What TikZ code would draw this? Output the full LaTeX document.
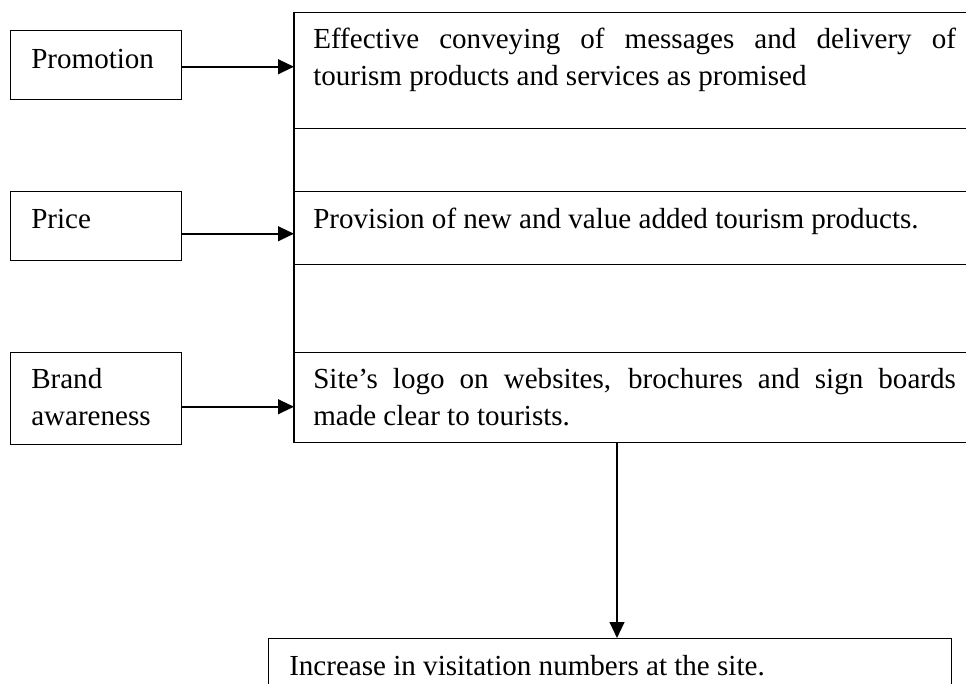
\documentclass[tikz,border=0pt]{standalone}
\usepackage{fontspec}
\setmainfont{Liberation Serif}
\usetikzlibrary{arrows.meta,calc}
\hyphenpenalty=10000
\exhyphenpenalty=10000
\begin{document}
\begin{tikzpicture}[x=0.75pt,y=-0.75pt,
  box/.style={draw, line width=1.1pt, inner sep=0pt, anchor=north west},
  txt/.style={inner sep=0pt, font=\fontsize{21.8}{27.75}\selectfont},
  arr/.style={line width=1.6pt, -{Triangle[length=12pt,width=11pt]}}]
\useasboundingbox (0,0) rectangle (966,683);
\fill[white] (0,0) rectangle (966,683);
\clip (0,0) rectangle (966,683);
% left boxes
\node[box, minimum width=128.25pt, minimum height=51.75pt] (p1) at (10,30) {};
\node[box, minimum width=128.25pt, minimum height=51.75pt] (p2) at (10,191) {};
\node[box, minimum width=128.25pt, minimum height=69pt] (p3) at (10,352) {};
% right column boxes
\node[box, minimum width=529.5pt, minimum height=87pt] (b1) at (294,12) {};
\node[box, minimum width=529.5pt, minimum height=54.75pt] (b2) at (294,191) {};
\node[box, minimum width=529.5pt, minimum height=67.5pt] (b3) at (294,352) {};
\draw[line width=1.1pt] (b1.north west) -- (b3.south west);
% bottom box
\node[box, minimum width=512.25pt, minimum height=61.5pt] (bot) at (268,638) {};
% texts
\node[txt, anchor=base west] (tp1) at (31,68) {Promotion};
\node[txt, anchor=base west] (tp2) at (31,228) {Price};
\node[txt, anchor=north west, align=left] (tp3) at (31,362.1) {\strut Brand\\awareness};
\node[txt, anchor=north west, text width=482pt, align=justify] (t1) at (313,22.1)
  {\strut Effective conveying of messages and delivery of\linebreak tourism products and services as promised};
\node[txt, anchor=base west] (t2) at (313,228) {Provision of new and value added tourism products.};
\node[txt, anchor=north west, text width=482pt, align=justify] (t3) at (313,362.1)
  {\strut Site’s logo on websites, brochures and sign boards\linebreak made clear to tourists.};
\node[txt, anchor=base west] (t4) at (289,675) {Increase in visitation numbers at the site.};
% arrow start points
\coordinate (a1) at ($(p1.east)+(0,1.5)$);
\coordinate (a2) at ($(p2.east)+(0,7.5)$);
\coordinate (a3) at ($(p3.east)+(0,8)$);
\coordinate (a4) at ($(b3.south west)+(323,0)$);
% arrows
\draw[arr] (a1) -- (a1 -| b1.west);
\draw[arr] (a2) -- (a2 -| b2.west);
\draw[arr] (a3) -- (a3 -| b3.west);
\draw[arr] (a4) -- (a4 |- bot.north);
\end{tikzpicture}
\end{document}
